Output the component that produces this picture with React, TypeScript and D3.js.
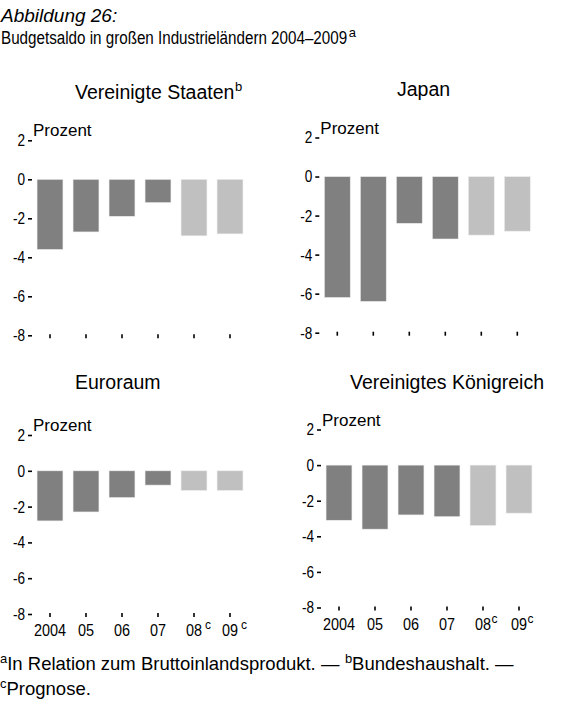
import React, { useEffect, useRef } from 'react';
import * as d3 from 'd3';

// Budgetsaldo in % des BIP
const years = ['2004', '05', '06', '07', '08', '09'];
const forecast = [false, false, false, false, true, true];
const yTicks = [2, 0, -2, -4, -6, -8];

const usValues = [-3.6, -2.7, -1.9, -1.2, -2.9, -2.8];
const japanValues = [-6.2, -6.4, -2.4, -3.2, -3.0, -2.8];
const euroValues = [-2.8, -2.3, -1.5, -0.8, -1.1, -1.1];
const ukValues = [-3.1, -3.6, -2.8, -2.9, -3.4, -2.7];

const panelTitles = ['Vereinigte Staaten', 'Japan', 'Euroraum', 'Vereinigtes Königreich'];
const panelSups = ['b', '', '', ''];

const FONT = "'Liberation Sans', Arial, sans-serif";
const W = 577;
const H = 718;

type Sel = d3.Selection<any, any, any, any>;

// squeeze text horizontally (original uses a narrow face)
function condense(sel: Sel, factor: number) {
  sel.each(function () {
    const el = this as SVGTextContentElement;
    const w = el.getComputedTextLength();
    el.setAttribute('textLength', String(w * factor));
    el.setAttribute('lengthAdjust', 'spacingAndGlyphs');
  });
}

// superscript as its own text, placed right after the given text
function sup(parent: Sel, txt: Sel, s: string, size: number, rise: number, gap = 0.5) {
  const el = txt.node() as SVGTextElement;
  const b = el.getBBox();
  const y0 = +txt.attr('y');
  return parent.append('text')
    .attr('x', b.x + b.width + gap)
    .attr('y', y0 - rise)
    .attr('font-size', size)
    .text(s);
}

const App: React.FC = () => {
  const svgRef = useRef<SVGSVGElement>(null);

  useEffect(() => {
    const svg = d3.select(svgRef.current);
    svg.selectAll('*').remove();
    svg.attr('font-family', FONT);

    // header
    svg.append('text')
      .attr('x', 1).attr('y', 22)
      .attr('font-size', 19).attr('font-style', 'italic')
      .text('Abbildung 26:');
    const h2 = svg.append('text')
      .attr('transform', 'translate(1,44) scale(0.8,1)')
      .attr('font-size', 19)
      .text('Budgetsaldo in großen Industrieländern 2004–2009');
    const h2w = (h2.node() as SVGTextElement).getComputedTextLength() * 0.8;
    svg.append('text')
      .attr('x', 1 + h2w + 1.5).attr('y', 37)
      .attr('font-size', 13)
      .text('a');

    const layout = [
      { values: usValues, x0: 32, yTop: 140.3, yBot: 335.3, titleX: 75, titleY: 99, labels: false },
      { values: japanValues, x0: 319.3, yTop: 137.5, yBot: 332.7, titleX: 397, titleY: 96, labels: false },
      { values: euroValues, x0: 32, yTop: 435, yBot: 614, titleX: 75, titleY: 389, labels: true },
      { values: ukValues, x0: 321, yTop: 429.5, yBot: 607.5, titleX: 350, titleY: 389, labels: true },
    ];

    layout.forEach((p, i) => {
      const g = svg.append('g');

      const x = d3.scaleBand<string>()
        .domain(years)
        .range([p.x0, p.x0 + 216])
        .paddingInner(0.28)
        .paddingOuter(0.14);

      const y = d3.scaleLinear()
        .domain([-8, 2])
        .range([p.yBot, p.yTop]);

      // panel title
      const t = g.append('text')
        .attr('x', p.titleX).attr('y', p.titleY)
        .attr('font-size', 19.5)
        .text(panelTitles[i]);
      if (panelSups[i]) sup(g, t, panelSups[i], 13, 8, 0.5);

      g.append('text')
        .attr('x', p.x0 + 1).attr('y', y(2) - 4)
        .attr('font-size', 17)
        .text('Prozent');

      g.append('g')
        .selectAll('rect')
        .data(p.values)
        .join('rect')
        .attr('x', (_, j) => x(years[j]) ?? 0)
        .attr('y', d => y(Math.max(0, d)))
        .attr('width', x.bandwidth())
        .attr('height', d => Math.abs(y(d) - y(0)))
        .attr('fill', (_, j) => (forecast[j] ? '#c0c0c0' : '#808080'))
        .attr('stroke', '#eeeeee')
        .attr('stroke-width', 0.6);

      const yAxis = g.append('g')
        .attr('transform', `translate(${p.x0},0)`)
        .call(d3.axisLeft(y).tickValues(yTicks).tickSize(4).tickPadding(3).tickFormat(d => String(d)));
      yAxis.select('.domain').remove();
      yAxis.selectAll('line').attr('stroke-width', 1.6);
      const yText = yAxis.selectAll('text').attr('font-size', 17).attr('font-family', FONT);
      condense(yText as Sel, 0.8);

      const xAxis = g.append('g')
        .attr('transform', `translate(0,${y(-8) - 1})`)
        .call(d3.axisBottom(x).tickSize(4).tickFormat(() => ''));
      xAxis.select('.domain').remove();
      xAxis.selectAll('line').attr('stroke-width', 1.6);

      if (p.labels) {
        const labG = g.append('g');
        years.forEach((yr, j) => {
          const lab = labG.append('text')
            .attr('x', (x(yr) ?? 0) + x.bandwidth() / 2)
            .attr('y', y(-8) + 22)
            .attr('font-size', 16)
            .attr('text-anchor', 'middle')
            .text(yr);
          condense(lab, 0.9);
          if (forecast[j]) sup(labG, lab, 'c', 12, 7, i === 2 ? 3 : 0.5);
        });
      }
    });

    // footnotes
    const fa = svg.append('text').attr('x', 0).attr('y', 663).attr('font-size', 13).text('a');
    const f1 = svg.append('text')
      .attr('x', (fa.node() as SVGTextElement).getComputedTextLength())
      .attr('y', 670).attr('font-size', 18.5)
      .text('In Relation zum Bruttoinlandsprodukt. —');
    const fb = sup(svg, f1, 'b', 13, 7, 5);
    const fbEnd = (fb.node() as SVGTextElement).getBBox();
    svg.append('text')
      .attr('x', fbEnd.x + fbEnd.width)
      .attr('y', 670).attr('font-size', 18.5)
      .text('Bundeshaushalt. —');
    const fc = svg.append('text').attr('x', 0).attr('y', 688).attr('font-size', 13).text('c');
    svg.append('text')
      .attr('x', (fc.node() as SVGTextElement).getComputedTextLength())
      .attr('y', 695).attr('font-size', 18.5)
      .text('Prognose.');
  }, []);

  return (
    <svg
      ref={svgRef}
      width={W}
      height={H}
      style={{ position: 'absolute', left: 0, top: 0, background: '#fff' }}
    />
  );
};

export default App;
